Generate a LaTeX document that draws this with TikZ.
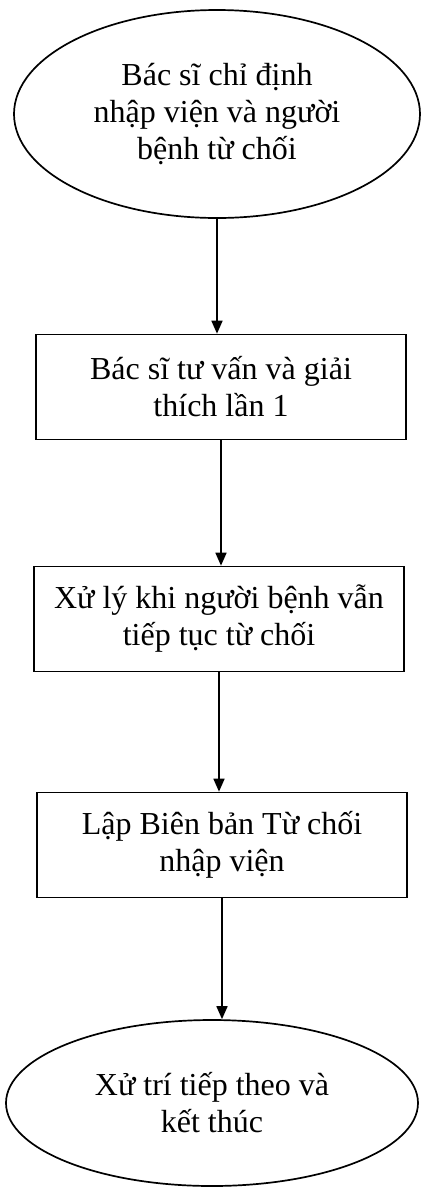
\documentclass[tikz,border=0pt]{standalone}
\usepackage{fontspec}
\setmainfont{Liberation Serif}
\usetikzlibrary{shapes.geometric}
\usetikzlibrary{arrows.meta}

\begin{document}
\begin{tikzpicture}[x=1pt,y=-1pt,line width=1.7pt,
  schritt/.style={draw,rectangle,minimum width=370pt,minimum height=105pt,
    align=center,font=\fontsize{32}{37}\selectfont},
  rand/.style={draw,ellipse,inner sep=0pt,align=center,
    font=\fontsize{32}{37}\selectfont},
  pfeil/.style={-{Triangle[length=13pt,width=11pt]}}]
\useasboundingbox (0,0) rectangle (423,1187);
% Die Knoten:
\node[rand,minimum width=406pt,minimum height=208pt] (start) at (217,114)
  {Bác sĩ chỉ định\\nhập viện và người\\bệnh từ chối};
\node[schritt] (tuvan) at (221,387) {Bác sĩ tư vấn và giải\\thích lần 1};
\node[schritt] (xuly) at (219,619) {Xử lý khi người bệnh vẫn\\tiếp tục từ chối};
\node[schritt] (bienban) at (222,845) {Lập Biên bản Từ chối\\nhập viện};
\node[rand,minimum width=412pt,minimum height=166pt] (ende) at (212,1103)
  {Xử trí tiếp theo và\\kết thúc};
% Die Pfeile:
\foreach \a/\b in {start/tuvan,tuvan/xuly,xuly/bienban,bienban/ende}
  \draw[pfeil] (\a) -- (\a |- \b.north);
\end{tikzpicture}
\end{document}
